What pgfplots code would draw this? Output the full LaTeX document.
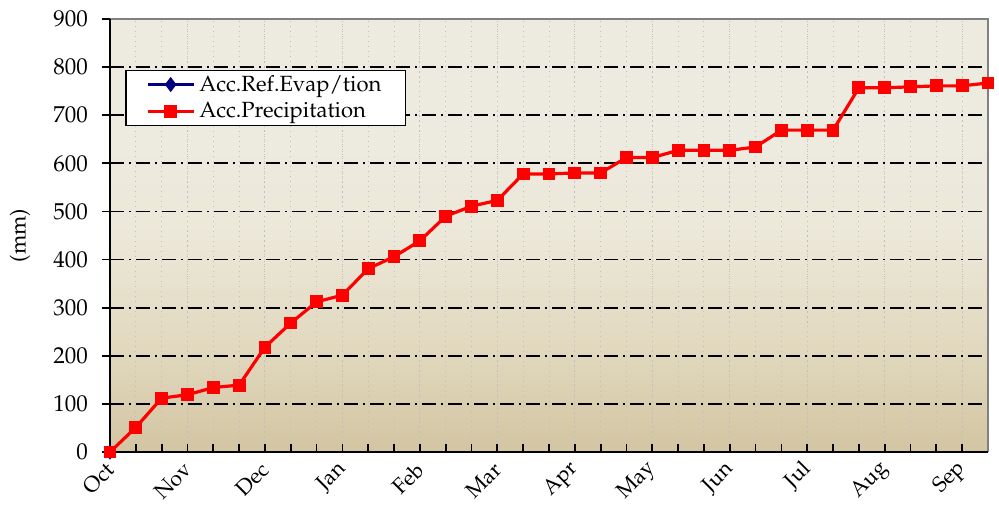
\documentclass[border=0pt]{standalone}
\usepackage[T1]{fontenc}
\usepackage{mathpazo}
\usepackage{pgfplots}
\pgfplotsset{compat=1.18}
\definecolor{bgtop}{RGB}{237,234,224}
\definecolor{bgmid}{RGB}{236,232,217}
\definecolor{bgmid2}{RGB}{225,216,190}
\definecolor{bgbot}{RGB}{211,197,162}
\definecolor{evapblue}{RGB}{0,0,128}
\pgfdeclareverticalshading{bgshade}{100bp}{color(0bp)=(bgbot); color(25bp)=(bgbot); color(37bp)=(bgmid2); color(50bp)=(bgmid); color(62bp)=(bgtop); color(100bp)=(bgtop)}
\begin{document}
\begin{tikzpicture}
\begin{axis}[
  scale only axis,
  width=439pt, height=216.5pt,
  xmin=0, xmax=34, ymin=0, ymax=900,
  xtick={0,3,...,33},
  xticklabels={Oct,Nov,Dec,Jan,Feb,Mar,Apr,May,Jun,Jul,Aug,Sep},
  minor xtick={0,...,34},
  ytick={0,100,...,900},
  x tick label style={rotate=45, anchor=east, font=\fontsize{10.8}{12}\selectfont, yshift=-5pt, xshift=-1.5pt},
  y tick label style={font=\fontsize{11.5}{13}\selectfont, xshift=-3.5pt},
  /pgf/number format/assume math mode=true,
  ylabel={(mm)},
  ylabel style={font=\fontsize{11}{12}\selectfont, at={(axis description cs:-0.1025,0.5)}, anchor=center},
  xtick style={draw=black, line width=0.9pt},
  ytick style={draw=black, line width=0.9pt},
  major tick length=4pt,
  minor tick length=4pt,
  xtick align=inside,
  ytick align=outside,
  tick pos=left,
  axis line style={draw=none},
  axis background/.style={shading=bgshade},
  xmajorgrids, xminorgrids,
  x grid style={gray!50, dotted, line width=0.5pt},
  minor x grid style={gray!50, dotted, line width=0.5pt},
  ymajorgrids,
  y grid style={black, line width=0.9pt, dash pattern=on 7pt off 2.5pt on 1pt off 2.5pt},
  clip=false,
  legend style={at={(axis cs:0.6,795)}, anchor=north west, draw=black, line width=0.6pt,
    font=\fontsize{11}{13}\selectfont, inner xsep=10pt, inner ysep=0.5pt, row sep=0pt,
    legend cell align=left},
  legend image code/.code={\draw[#1, line width=1.6pt] (0pt,0pt) -- (23pt,0pt); \draw[#1,only marks] plot coordinates {(11.5pt,0pt)};},
]
% frame: gray top and right, black left and bottom
\draw[gray, line width=1.1pt] (axis cs:0,900) -- (axis cs:34,900) -- (axis cs:34,0);
\addplot[color=evapblue, line width=1.6pt, mark=diamond*, mark size=2.5pt, mark options={fill=evapblue}] coordinates {(0,0)};
\addlegendentry{Acc.Ref.Evap/tion}
\addplot[color=red, line width=1.6pt, mark=square*, mark size=2.4pt, mark options={fill=red}] coordinates {
(0,0) (1,51) (2,112) (3,119) (4,134) (5,139) (6,218) (7,268) (8,312) (9,326)
(10,381) (11,406) (12,439) (13,490) (14,511) (15,523) (16,578) (17,578) (18,580) (19,580)
(20,612) (21,612) (22,627) (23,627) (24,627) (25,634) (26,669) (27,669) (28,669) (29,757)
(30,757) (31,759) (32,761) (33,761) (34,767)};
\addlegendentry{Acc.Precipitation}
\draw[black, line width=1.3pt] (axis cs:0,900) -- (axis cs:0,0) -- (axis cs:34,0);
\end{axis}
\pgfresetboundingbox
\path (-55pt,-26pt) rectangle (444.5pt,226pt);
\end{tikzpicture}
\end{document}
